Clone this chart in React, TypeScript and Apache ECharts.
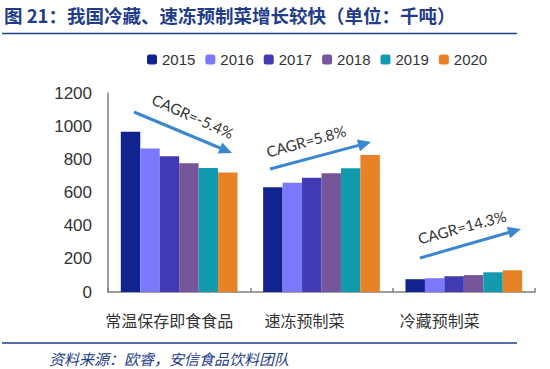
import React, { useEffect, useRef } from "react";
import * as echarts from "echarts";

const categories = ["常温保存即食食品", "速冻预制菜", "冷藏预制菜"];
const years = ["2015", "2016", "2017", "2018", "2019", "2020"];
const v2015 = [967, 631, 77];
const v2016 = [865, 659, 83];
const v2017 = [819, 689, 95];
const v2018 = [777, 716, 102];
const v2019 = [747, 746, 119];
const v2020 = [720, 826, 131];
const seriesValues = [v2015, v2016, v2017, v2018, v2019, v2020];
const colors = ["#10238F", "#7C78FD", "#4239B5", "#77559A", "#129AAF", "#E88227"];
const yTicks = [0, 200, 400, 600, 800, 1000, 1200];
const cagrLabels = ["CAGR=-5.4%", "CAGR=5.8%", "CAGR=14.3%"];

const TITLE = "图 21：我国冷藏、速冻预制菜增长较快（单位：千吨）";
const SOURCE = "资料来源：欧睿，安信食品饮料团队";
const BLUE = "#1F3D8C";
const ARROW = "#3C87D2";

function arrow(x1: number, y1: number, x2: number, y2: number) {
  const dx = x2 - x1;
  const dy = y2 - y1;
  const len = Math.sqrt(dx * dx + dy * dy);
  const ux = dx / len;
  const uy = dy / len;
  const hl = 13;
  const hw = 6;
  const bx = x2 - ux * hl;
  const by = y2 - uy * hl;
  return [
    {
      type: "line",
      shape: { x1, y1, x2: bx + ux * 2, y2: by + uy * 2 },
      style: { stroke: ARROW, lineWidth: 3 },
      silent: true,
    },
    {
      type: "polygon",
      shape: {
        points: [
          [x2, y2],
          [bx - uy * hw, by + ux * hw],
          [bx + uy * hw, by - ux * hw],
        ],
      },
      style: { fill: ARROW },
      silent: true,
    },
  ];
}

function cagrText(text: string, x: number, y: number, rot: number) {
  return {
    type: "text",
    x,
    y,
    rotation: rot,
    style: {
      text,
      fill: "#333333",
      font: "15px Lato, 'Open Sans', sans-serif",
      align: "center",
      verticalAlign: "middle",
    },
    silent: true,
  };
}

export default function App() {
  const ref = useRef<HTMLDivElement>(null);
  useEffect(() => {
    if (!ref.current) return;
    const chart = echarts.init(ref.current, undefined, { renderer: "svg" });
    const deg = Math.PI / 180;
    const option: any = {
      animation: false,
      backgroundColor: "#ffffff",
      textStyle: { fontFamily: "Arial, 'Liberation Sans', 'Noto Sans CJK SC', sans-serif" },
      legend: {
        data: years,
        left: 142,
        top: 47,
        itemWidth: 10,
        itemHeight: 10,
        itemGap: 10,
        icon: "roundRect",
        textStyle: { fontSize: 15, color: "#333333", fontFamily: "Arial, 'Liberation Sans', sans-serif" },
      },
      grid: { left: 108, right: 15, top: 93, bottom: 77 },
      xAxis: {
        type: "category",
        data: categories,
        axisLine: { show: true, lineStyle: { color: "#7F7F7F", width: 1.5 } },
        axisTick: { show: true, inside: true, length: 4, lineStyle: { color: "#7F7F7F", width: 1.5 } },
        axisLabel: {
          margin: 20,
          interval: 0,
          fontSize: 16,
          color: "#333333",
          fontFamily: "'Noto Sans CJK SC', sans-serif",
          formatter: (v: string, i: number) => `{c${i}|${v}}`,
          rich: {
            c0: { padding: [0, 20, 0, 0], fontSize: 16, color: "#333333" },
            c1: { padding: [0, 34, 0, 0], fontSize: 16, color: "#333333" },
            c2: { padding: [0, 48, 0, 0], fontSize: 16, color: "#333333" },
          },
        },
      },
      yAxis: {
        type: "value",
        min: yTicks[0],
        max: yTicks[yTicks.length - 1],
        interval: 200,
        axisLine: { show: true, lineStyle: { color: "#7F7F7F", width: 1.5 } },
        axisTick: { show: false },
        splitLine: { show: false },
        axisLabel: {
          margin: 16,
          fontSize: 17,
          color: "#333333",
          fontFamily: "Arial, 'Liberation Sans', sans-serif",
          formatter: (v: number) => String(v),
        },
      },
      series: years.map((y, i) => ({
        name: y,
        type: "bar",
        data: seriesValues[i],
        barGap: "0%",
        barCategoryGap: "18%",
        itemStyle: { color: colors[i] },
      })),
      graphic: [
        {
          type: "text",
          x: 4,
          y: 15,
          style: {
            text: TITLE,
            fill: BLUE,
            font: "bold 18.5px 'Noto Sans CJK SC', sans-serif",
            verticalAlign: "middle",
          },
        },
        {
          type: "line",
          shape: { x1: 2, y1: 33.5, x2: 517, y2: 33.5 },
          style: { stroke: BLUE, lineWidth: 1.5 },
        },
        {
          type: "line",
          shape: { x1: 2, y1: 343, x2: 517, y2: 343 },
          style: { stroke: BLUE, lineWidth: 1.5 },
        },
        {
          type: "text",
          x: 49,
          y: 358,
          style: {
            text: SOURCE,
            fill: BLUE,
            font: "italic 15px 'Noto Sans CJK SC', sans-serif",
            verticalAlign: "middle",
          },
        },
        ...arrow(134, 112, 232, 153),
        ...arrow(270, 169, 371, 142),
        ...arrow(420, 258, 521, 229),
        cagrText(cagrLabels[0], 193, 116, -24 * deg),
        cagrText(cagrLabels[1], 306, 141, 15.5 * deg),
        cagrText(cagrLabels[2], 462, 227, 15 * deg),
      ],
    };
    chart.setOption(option);
    return () => chart.dispose();
  }, []);
  return (
    <div
      ref={ref}
      style={{ position: "fixed", left: 0, top: 0, width: 550, height: 369 }}
    />
  );
}
